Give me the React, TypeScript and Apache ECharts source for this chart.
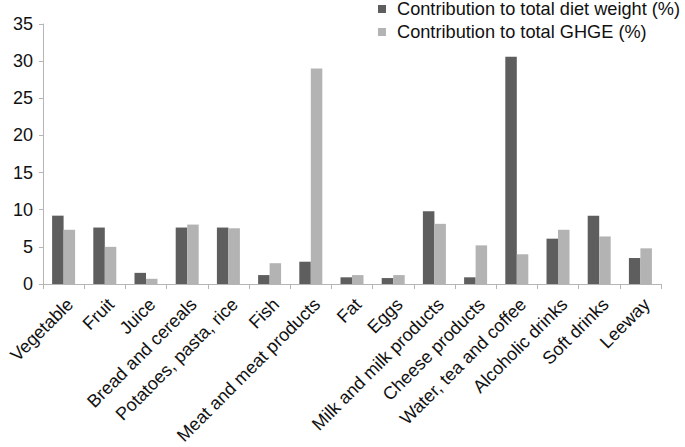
import React, { useEffect, useRef } from "react";
import * as echarts from "echarts";

const categories = [
  "Vegetable",
  "Fruit",
  "Juice",
  "Bread and cereals",
  "Potatoes, pasta, rice",
  "Fish",
  "Meat and meat products",
  "Fat",
  "Eggs",
  "Milk and milk products",
  "Cheese products",
  "Water, tea and coffee",
  "Alcoholic drinks",
  "Soft drinks",
  "Leeway",
];

const dietWeight = [9.2, 7.6, 1.5, 7.6, 7.6, 1.2, 3.0, 0.9, 0.8, 9.8, 0.9, 30.6, 6.1, 9.2, 3.5];
const ghge = [7.3, 5.0, 0.7, 8.0, 7.5, 2.8, 29.0, 1.2, 1.2, 8.1, 5.2, 4.0, 7.3, 6.4, 4.8];

const seriesNames = ["Contribution to total diet weight (%)", "Contribution to total GHGE (%)"];
const yTicks = { min: 0, max: 35, interval: 5 };

const FONT = "'Liberation Sans', Arial, Helvetica, sans-serif";

export default function App() {
  const ref = useRef<HTMLDivElement>(null);
  useEffect(() => {
    if (!ref.current) return;
    const chart = echarts.init(ref.current, undefined, { renderer: "svg" });
    chart.setOption({
      animation: false,
      textStyle: { fontFamily: FONT },
      legend: {
        orient: "vertical",
        left: 378,
        top: 0,
        padding: 0,
        itemWidth: 8,
        itemHeight: 8,
        itemGap: 5,
        icon: "rect",
        textStyle: { fontSize: 18.2, color: "#111", fontFamily: FONT, padding: [0, 0, 0, 6] },
        data: seriesNames,
      },
      grid: {
        left: 43,
        right: 24,
        top: 24,
        bottom: 163,
        containLabel: false,
        outerBoundsMode: "none",
      },
      xAxis: {
        type: "category",
        data: categories,
        boundaryGap: true,
        axisLine: { lineStyle: { color: "#b5b5b5", width: 1 } },
        axisTick: { show: true, length: 5, lineStyle: { color: "#b5b5b5" }, alignWithLabel: false },
        axisLabel: {
          interval: 0,
          rotate: 45,
          fontSize: 18,
          color: "#111",
          fontFamily: FONT,
          margin: 11,
          verticalAlign: "top",
        },
        splitLine: { show: false },
      },
      yAxis: {
        type: "value",
        min: yTicks.min,
        max: yTicks.max,
        interval: yTicks.interval,
        axisLine: { show: true, lineStyle: { color: "#b5b5b5", width: 1 } },
        axisTick: { show: true, length: 4, lineStyle: { color: "#b5b5b5" } },
        axisLabel: { fontSize: 18, color: "#111", fontFamily: FONT, margin: 10 },
        splitLine: { show: false },
      },
      series: [
        {
          name: seriesNames[0],
          type: "bar",
          data: dietWeight,
          barWidth: 11.5,
          barGap: "0%",
          itemStyle: { color: "#5e5e5e" },
        },
        {
          name: seriesNames[1],
          type: "bar",
          data: ghge,
          barWidth: 11.5,
          barGap: "0%",
          itemStyle: { color: "#b3b3b3" },
        },
      ],
    });
    return () => chart.dispose();
  }, []);
  return <div ref={ref} style={{ width: 685, height: 447, position: "absolute", left: 0, top: 0 }} />;
}
